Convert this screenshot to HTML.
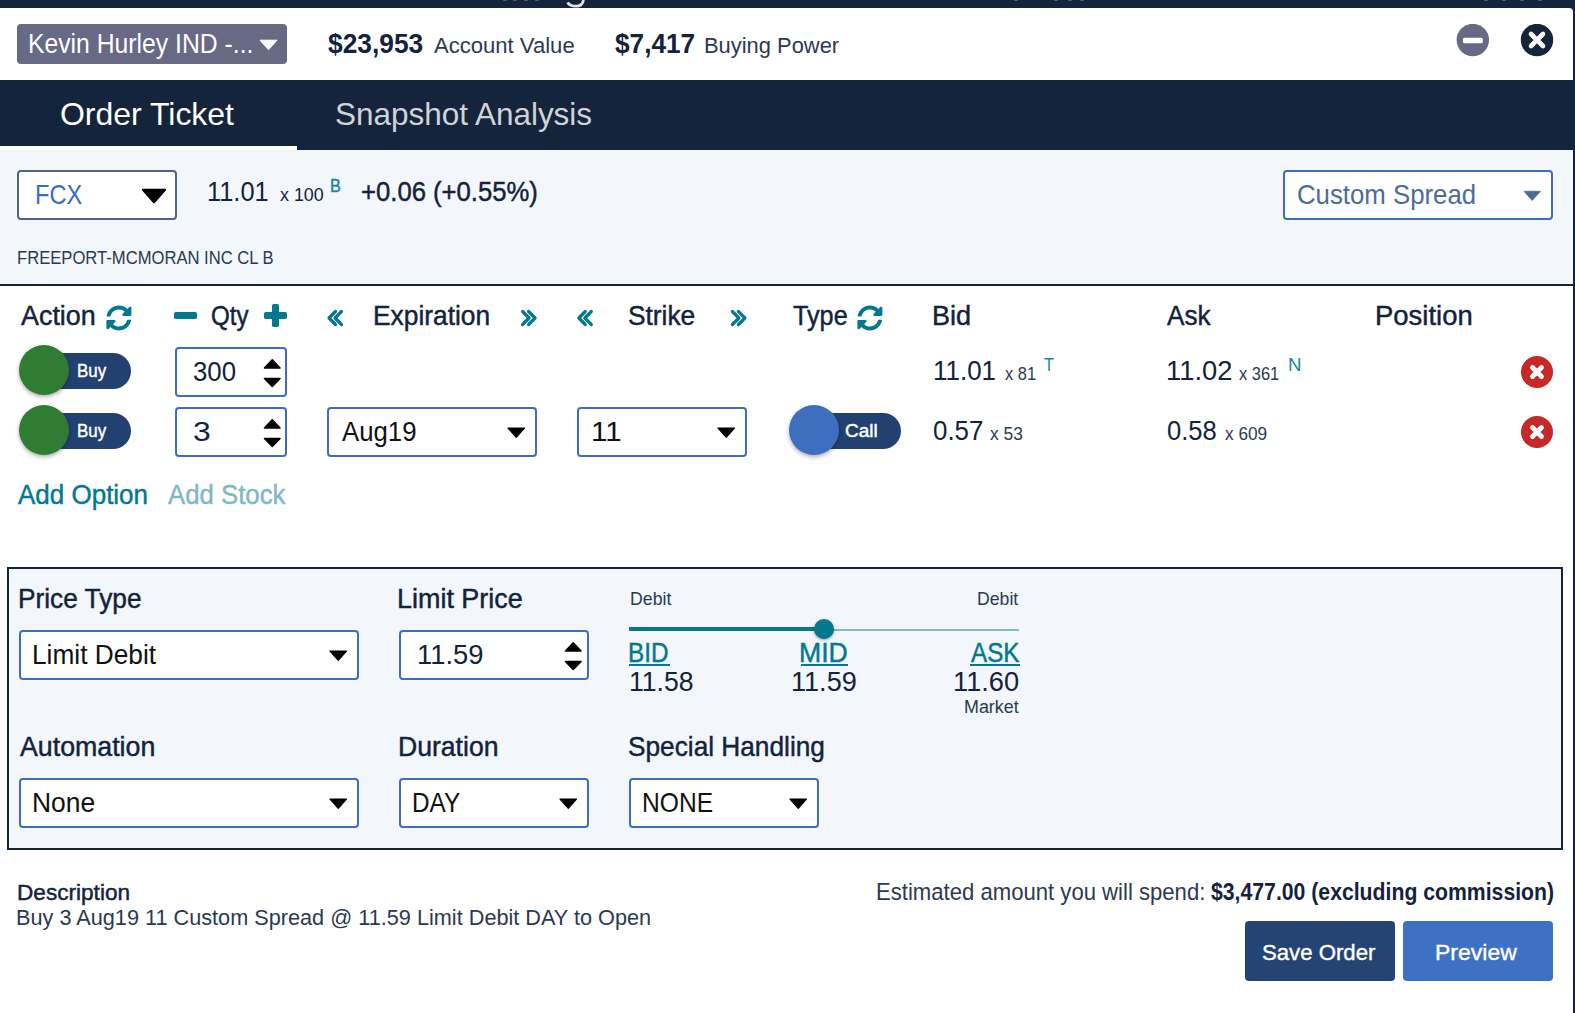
<!DOCTYPE html>
<html><head><meta charset="utf-8"><style>
html,body{margin:0;padding:0;}
body{width:1575px;height:1013px;position:relative;overflow:hidden;background:#13243b;font-family:"Liberation Sans",sans-serif;}
.t{position:absolute;white-space:nowrap;transform-origin:0 0;display:block;}
.a{position:absolute;box-sizing:border-box;}
</style></head><body>
<div class="a" style="left:0;top:8px;width:1573px;height:1005px;background:#fff;border-top-right-radius:4px;"></div>
<svg class="a" style="left:563px;top:0" width="30" height="8"><path d="M4.5 2.5 Q7 6.2 13 6.2 Q19.5 6.2 20.5 0" stroke="#e2e2e6" stroke-width="2.8" fill="none"/></svg>
<div class="a" style="left:503px;top:0;width:4px;height:1.2px;background:#5a6372;border-radius:0 0 2px 2px;"></div>
<div class="a" style="left:513px;top:0;width:4px;height:1.2px;background:#5a6372;border-radius:0 0 2px 2px;"></div>
<div class="a" style="left:524px;top:0;width:4px;height:1.2px;background:#5a6372;border-radius:0 0 2px 2px;"></div>
<div class="a" style="left:535px;top:0;width:4px;height:1.2px;background:#5a6372;border-radius:0 0 2px 2px;"></div>
<div class="a" style="left:1014px;top:0;width:4px;height:1.2px;background:#5a6372;border-radius:0 0 2px 2px;"></div>
<div class="a" style="left:1054px;top:0;width:4px;height:1.2px;background:#5a6372;border-radius:0 0 2px 2px;"></div>
<div class="a" style="left:1068px;top:0;width:4px;height:1.2px;background:#5a6372;border-radius:0 0 2px 2px;"></div>
<div class="a" style="left:1080px;top:0;width:4px;height:1.2px;background:#5a6372;border-radius:0 0 2px 2px;"></div>
<div class="a" style="left:1484px;top:0;width:4px;height:1.2px;background:#5a6372;border-radius:0 0 2px 2px;"></div>
<div class="a" style="left:1502px;top:0;width:4px;height:1.2px;background:#5a6372;border-radius:0 0 2px 2px;"></div>
<div class="a" style="left:1520px;top:0;width:4px;height:1.2px;background:#5a6372;border-radius:0 0 2px 2px;"></div>
<div class="a" style="left:1538px;top:0;width:4px;height:1.2px;background:#5a6372;border-radius:0 0 2px 2px;"></div>
<div class="a" style="left:17px;top:24px;width:270px;height:40px;background:#676985;border-radius:4px;"></div>
<svg class="a" style="left:259px;top:39px" width="20" height="12"><path d="M1 1.2 L18 1.2 L9.5 10.8 Z" fill="#fff" stroke="#fff" stroke-width="1" stroke-linejoin="round"/></svg>
<svg class="a" style="left:1456px;top:24px" width="34" height="34"><circle cx="16.8" cy="16" r="16.2" fill="#676985"/><rect x="7" y="13.8" width="19.8" height="5.5" rx="1.5" fill="#fff"/></svg>
<svg class="a" style="left:1520px;top:24px" width="34" height="34"><circle cx="17" cy="16" r="16.2" fill="#13243b"/><path d="M11 10 L23 22 M23 10 L11 22" stroke="#fff" stroke-width="4.6" stroke-linecap="round"/></svg>
<div class="a" style="left:0;top:80px;width:1573px;height:70px;background:#13243b;"></div>
<div class="a" style="left:0;top:146px;width:297px;height:4px;background:#fff;"></div>
<div class="a" style="left:0;top:150px;width:1573px;height:134px;background:#f3f7fb;"></div>
<div class="a" style="left:0;top:284px;width:1573px;height:2px;background:#13243b;"></div>
<div class="a" style="left:17px;top:170px;width:160px;height:50px;background:#fff;border:2px solid #50657f;border-radius:4px;"></div>
<svg class="a" style="left:141px;top:188px" width="27" height="16"><path d="M2 1.8 L24 1.8 L13 14.2 Z" fill="#000" stroke="#000" stroke-width="2.2" stroke-linejoin="round"/></svg>
<div class="a" style="left:1283px;top:170px;width:270px;height:50px;background:#fff;border:2px solid #3d6dc2;border-radius:4px;"></div>
<svg class="a" style="left:1523px;top:190px" width="19" height="12"><path d="M1 1.3 L17.5 1.3 L9.2 10.5 Z" fill="#4a6d96" stroke="#4a6d96" stroke-width="0.8" stroke-linejoin="round"/></svg>
<svg class="a" style="left:105.80px;top:304.79px" width="25.81" height="26.01" viewBox="0 0 512 512" preserveAspectRatio="none"><path fill="#03788f" d="M370.72 133.28C339.458 104.008 298.888 87.962 255.848 88c-77.458.068-144.328 53.178-162.791 126.85-1.344 5.363-6.122 9.15-11.651 9.15H24.103c-7.498 0-13.194-6.807-11.807-14.176C33.933 94.924 134.813 8 256 8c66.448 0 126.791 26.136 171.315 68.685L463.03 40.97C478.149 25.851 504 36.559 504 57.941V192c0 13.255-10.745 24-24 24H345.941c-21.382 0-32.09-25.851-16.971-40.971l41.75-41.749zM32 296h134.059c21.382 0 32.09 25.851 16.971 40.971l-41.75 41.75c31.262 29.273 71.835 45.319 114.876 45.28 77.418-.07 144.315-53.144 162.787-126.849 1.344-5.363 6.122-9.15 11.651-9.15h57.304c7.498 0 13.194 6.807 11.807 14.176C478.067 417.076 377.187 504 256 504c-66.448 0-126.791-26.136-171.315-68.685L48.97 471.03C33.851 486.149 8 475.441 8 454.059V320c0-13.255 10.745-24 24-24z"/></svg>
<svg class="a" style="left:857.10px;top:304.79px" width="25.81" height="26.01" viewBox="0 0 512 512" preserveAspectRatio="none"><path fill="#03788f" d="M370.72 133.28C339.458 104.008 298.888 87.962 255.848 88c-77.458.068-144.328 53.178-162.791 126.85-1.344 5.363-6.122 9.15-11.651 9.15H24.103c-7.498 0-13.194-6.807-11.807-14.176C33.933 94.924 134.813 8 256 8c66.448 0 126.791 26.136 171.315 68.685L463.03 40.97C478.149 25.851 504 36.559 504 57.941V192c0 13.255-10.745 24-24 24H345.941c-21.382 0-32.09-25.851-16.971-40.971l41.75-41.749zM32 296h134.059c21.382 0 32.09 25.851 16.971 40.971l-41.75 41.75c31.262 29.273 71.835 45.319 114.876 45.28 77.418-.07 144.315-53.144 162.787-126.849 1.344-5.363 6.122-9.15 11.651-9.15h57.304c7.498 0 13.194 6.807 11.807 14.176C478.067 417.076 377.187 504 256 504c-66.448 0-126.791-26.136-171.315-68.685L48.97 471.03C33.851 486.149 8 475.441 8 454.059V320c0-13.255 10.745-24 24-24z"/></svg>
<div class="a" style="left:174.4px;top:312.3px;width:23px;height:7px;background:#03788f;border-radius:1.8px;"></div>
<div class="a" style="left:264.4px;top:312.3px;width:23px;height:7px;background:#03788f;border-radius:1.8px;"></div>
<div class="a" style="left:272.4px;top:304.4px;width:7px;height:23px;background:#03788f;border-radius:1.8px;"></div>
<svg class="a" style="left:0;top:0" width="1" height="1" overflow="visible"><path d="M335.50 311.5 L329.00 318 L335.50 324.5 M341.50 311.5 L335.00 318 L341.50 324.5" stroke="#03788f" stroke-width="3.2" fill="none" stroke-linecap="round" stroke-linejoin="round"/></svg>
<svg class="a" style="left:0;top:0" width="1" height="1" overflow="visible"><path d="M585.30 311.5 L578.80 318 L585.30 324.5 M591.30 311.5 L584.80 318 L591.30 324.5" stroke="#03788f" stroke-width="3.2" fill="none" stroke-linecap="round" stroke-linejoin="round"/></svg>
<svg class="a" style="left:0;top:0" width="1" height="1" overflow="visible"><path d="M522.60 311.5 L529.10 318 L522.60 324.5 M528.60 311.5 L535.10 318 L528.60 324.5" stroke="#03788f" stroke-width="3.2" fill="none" stroke-linecap="round" stroke-linejoin="round"/></svg>
<svg class="a" style="left:0;top:0" width="1" height="1" overflow="visible"><path d="M732.40 311.5 L738.90 318 L732.40 324.5 M738.40 311.5 L744.90 318 L738.40 324.5" stroke="#03788f" stroke-width="3.2" fill="none" stroke-linecap="round" stroke-linejoin="round"/></svg>
<div class="a" style="left:26px;top:353px;width:105px;height:36px;background:#234170;border-radius:18px;"></div>
<div class="a" style="left:19px;top:345px;width:50px;height:50px;background:#2e7d32;border-radius:50%;box-shadow:0 2px 4px rgba(0,0,0,0.32);"></div>
<div class="a" style="left:175px;top:347px;width:112px;height:50px;background:#fff;border:2px solid #3d6dc2;border-radius:4px;"></div>
<svg class="a" style="left:263px;top:357.5px" width="19" height="31"><path d="M9.25 1.8 L17 10 L1.5 10 Z M1.5 20.5 L17 20.5 L9.25 28.5 Z" fill="#000" stroke="#000" stroke-width="1.6" stroke-linejoin="round"/></svg>
<svg class="a" style="left:1520px;top:355px" width="34" height="34"><circle cx="17" cy="17" r="16" fill="#c62828"/><path d="M12.5 12.5 L21.5 21.5 M21.5 12.5 L12.5 21.5" stroke="#fff" stroke-width="4.8" stroke-linecap="round"/></svg>
<div class="a" style="left:26px;top:413px;width:105px;height:36px;background:#234170;border-radius:18px;"></div>
<div class="a" style="left:19px;top:405px;width:50px;height:50px;background:#2e7d32;border-radius:50%;box-shadow:0 2px 4px rgba(0,0,0,0.32);"></div>
<div class="a" style="left:175px;top:407px;width:112px;height:50px;background:#fff;border:2px solid #3d6dc2;border-radius:4px;"></div>
<svg class="a" style="left:263px;top:417.5px" width="19" height="31"><path d="M9.25 1.8 L17 10 L1.5 10 Z M1.5 20.5 L17 20.5 L9.25 28.5 Z" fill="#000" stroke="#000" stroke-width="1.6" stroke-linejoin="round"/></svg>
<div class="a" style="left:327px;top:407px;width:210px;height:50px;background:#fff;border:2px solid #3d6dc2;border-radius:4px;"></div>
<svg class="a" style="left:507px;top:427px" width="19" height="12"><path d="M1 1 L17.5 1 L9.25 10.3 Z" fill="#000" stroke="#000" stroke-width="1.2" stroke-linejoin="round"/></svg>
<div class="a" style="left:577px;top:407px;width:170px;height:50px;background:#fff;border:2px solid #3d6dc2;border-radius:4px;"></div>
<svg class="a" style="left:717px;top:427px" width="19" height="12"><path d="M1 1 L17.5 1 L9.25 10.3 Z" fill="#000" stroke="#000" stroke-width="1.2" stroke-linejoin="round"/></svg>
<div class="a" style="left:796px;top:413px;width:105px;height:36px;background:#234170;border-radius:18px;"></div>
<div class="a" style="left:789px;top:405px;width:50px;height:50px;background:#3d6fc0;border-radius:50%;box-shadow:0 2px 4px rgba(0,0,0,0.32);"></div>
<svg class="a" style="left:1520px;top:415px" width="34" height="34"><circle cx="17" cy="17" r="16" fill="#c62828"/><path d="M12.5 12.5 L21.5 21.5 M21.5 12.5 L12.5 21.5" stroke="#fff" stroke-width="4.8" stroke-linecap="round"/></svg>
<div class="a" style="left:7px;top:567px;width:1556px;height:283px;background:#f3f7fb;border:2px solid #13243b;"></div>
<div class="a" style="left:19px;top:630px;width:340px;height:50px;background:#fff;border:2px solid #3d6dc2;border-radius:4px;"></div>
<svg class="a" style="left:329px;top:650px" width="19" height="12"><path d="M1 1 L17.5 1 L9.25 10.3 Z" fill="#000" stroke="#000" stroke-width="1.2" stroke-linejoin="round"/></svg>
<div class="a" style="left:399px;top:630px;width:190px;height:50px;background:#fff;border:2px solid #3d6dc2;border-radius:4px;"></div>
<svg class="a" style="left:564px;top:641px" width="19" height="31"><path d="M9.25 1.8 L17 10 L1.5 10 Z M1.5 20.5 L17 20.5 L9.25 28.5 Z" fill="#000" stroke="#000" stroke-width="1.6" stroke-linejoin="round"/></svg>
<div class="a" style="left:629px;top:628.7px;width:390px;height:2.3px;background:#80bcc6;"></div>
<div class="a" style="left:629px;top:626.6px;width:195px;height:4.7px;background:#03788f;"></div>
<div class="a" style="left:814px;top:619px;width:20px;height:20px;background:#03788f;border-radius:50%;box-shadow:0 1px 3px rgba(0,0,0,0.4);"></div>
<div class="a" style="left:629px;top:664.2px;width:41px;height:2px;background:#03788f;"></div>
<div class="a" style="left:800.5px;top:664.2px;width:47px;height:2px;background:#03788f;"></div>
<div class="a" style="left:969.5px;top:664.2px;width:50px;height:2px;background:#03788f;"></div>
<div class="a" style="left:19px;top:778px;width:340px;height:50px;background:#fff;border:2px solid #3d6dc2;border-radius:4px;"></div>
<svg class="a" style="left:329px;top:798px" width="19" height="12"><path d="M1 1 L17.5 1 L9.25 10.3 Z" fill="#000" stroke="#000" stroke-width="1.2" stroke-linejoin="round"/></svg>
<div class="a" style="left:399px;top:778px;width:190px;height:50px;background:#fff;border:2px solid #3d6dc2;border-radius:4px;"></div>
<svg class="a" style="left:559px;top:798px" width="19" height="12"><path d="M1 1 L17.5 1 L9.25 10.3 Z" fill="#000" stroke="#000" stroke-width="1.2" stroke-linejoin="round"/></svg>
<div class="a" style="left:629px;top:778px;width:190px;height:50px;background:#fff;border:2px solid #3d6dc2;border-radius:4px;"></div>
<svg class="a" style="left:789px;top:798px" width="19" height="12"><path d="M1 1 L17.5 1 L9.25 10.3 Z" fill="#000" stroke="#000" stroke-width="1.2" stroke-linejoin="round"/></svg>
<div class="a" style="left:1245px;top:921px;width:150px;height:60px;background:#244475;border-radius:4px;"></div>
<div class="a" style="left:1403px;top:921px;width:150px;height:60px;background:#3c71c3;border-radius:4px;"></div>
<span class="t" style="left:28.17px;top:31px;font-size:27.00px;line-height:27.00px;font-weight:400;color:#ffffff;transform:scaleX(0.9161);">Kevin Hurley IND -...</span>
<span class="t" style="left:328.00px;top:30px;font-size:27.25px;line-height:27.25px;font-weight:700;color:#13233b;transform:scaleX(0.9661);">$23,953</span>
<span class="t" style="left:434.10px;top:35px;font-size:22.00px;line-height:22.00px;font-weight:400;color:#2b3a50;transform:scaleX(1.0029);">Account Value</span>
<span class="t" style="left:615.00px;top:30px;font-size:27.25px;line-height:27.25px;font-weight:700;color:#13233b;transform:scaleX(0.9612);">$7,417</span>
<span class="t" style="left:704.00px;top:35px;font-size:22.00px;line-height:22.00px;font-weight:400;color:#2b3a50;transform:scaleX(0.9955);">Buying Power</span>
<span class="t" style="left:60.29px;top:99px;font-size:31.50px;line-height:31.50px;font-weight:400;color:#ffffff;transform:scaleX(1.0143);">Order Ticket</span>
<span class="t" style="left:334.99px;top:99px;font-size:31.50px;line-height:31.50px;font-weight:400;color:#d2d3d8;transform:scaleX(0.9986);">Snapshot Analysis</span>
<span class="t" style="left:34.98px;top:181px;font-size:27.50px;line-height:27.50px;font-weight:400;color:#3a6cc0;transform:scaleX(0.8603);">FCX</span>
<span class="t" style="left:206.86px;top:178px;font-size:27.50px;line-height:27.50px;font-weight:400;color:#13233b;transform:scaleX(0.9232);">11.01</span>
<span class="t" style="left:280.10px;top:186px;font-size:18.75px;line-height:18.75px;font-weight:400;color:#13233b;transform:scaleX(0.9529);">x 100</span>
<span class="t" style="left:329.54px;top:177px;font-size:18.75px;line-height:18.75px;font-weight:400;color:#16879a;transform:scaleX(0.8660);-webkit-text-stroke:0.45px #16879a;">B</span>
<span class="t" style="left:361.17px;top:178px;font-size:27.50px;line-height:27.50px;font-weight:400;color:#13233b;transform:scaleX(0.9332);-webkit-text-stroke:0.45px #13233b;">+0.06 (+0.55%)</span>
<span class="t" style="left:1297.06px;top:181px;font-size:27.50px;line-height:27.50px;font-weight:400;color:#4a6d96;transform:scaleX(0.9371);">Custom Spread</span>
<span class="t" style="left:16.63px;top:248px;font-size:19.25px;line-height:19.25px;font-weight:400;color:#2b3a50;transform:scaleX(0.8633);">FREEPORT-MCMORAN INC CL B</span>
<span class="t" style="left:21.40px;top:302px;font-size:27.50px;line-height:27.50px;font-weight:400;color:#13233b;transform:scaleX(0.9783);-webkit-text-stroke:0.45px #13233b;">Action</span>
<span class="t" style="left:211.03px;top:302px;font-size:27.50px;line-height:27.50px;font-weight:400;color:#13233b;transform:scaleX(0.8782);-webkit-text-stroke:0.45px #13233b;">Qty</span>
<span class="t" style="left:373.08px;top:302px;font-size:27.50px;line-height:27.50px;font-weight:400;color:#13233b;transform:scaleX(0.9580);-webkit-text-stroke:0.45px #13233b;">Expiration</span>
<span class="t" style="left:628.04px;top:302px;font-size:27.50px;line-height:27.50px;font-weight:400;color:#13233b;transform:scaleX(0.9567);-webkit-text-stroke:0.45px #13233b;">Strike</span>
<span class="t" style="left:793.00px;top:302px;font-size:27.50px;line-height:27.50px;font-weight:400;color:#13233b;transform:scaleX(0.9171);-webkit-text-stroke:0.45px #13233b;">Type</span>
<span class="t" style="left:932.12px;top:302px;font-size:27.50px;line-height:27.50px;font-weight:400;color:#13233b;transform:scaleX(0.9851);-webkit-text-stroke:0.45px #13233b;">Bid</span>
<span class="t" style="left:1167.19px;top:302px;font-size:27.50px;line-height:27.50px;font-weight:400;color:#13233b;transform:scaleX(0.9504);-webkit-text-stroke:0.45px #13233b;">Ask</span>
<span class="t" style="left:1375.20px;top:302px;font-size:27.50px;line-height:27.50px;font-weight:400;color:#13233b;transform:scaleX(0.9985);-webkit-text-stroke:0.45px #13233b;">Position</span>
<span class="t" style="left:77.11px;top:361px;font-size:19.00px;line-height:19.00px;font-weight:400;color:#ffffff;transform:scaleX(0.8902);-webkit-text-stroke:0.45px #ffffff;">Buy</span>
<span class="t" style="left:193.36px;top:358px;font-size:27.50px;line-height:27.50px;font-weight:400;color:#13233b;transform:scaleX(0.9376);">300</span>
<span class="t" style="left:932.61px;top:357px;font-size:27.50px;line-height:27.50px;font-weight:400;color:#13233b;transform:scaleX(0.9437);">11.01</span>
<span class="t" style="left:1005.00px;top:364px;font-size:19.00px;line-height:19.00px;font-weight:400;color:#2b3a50;transform:scaleX(0.8631);">x 81</span>
<span class="t" style="left:1044.20px;top:355px;font-size:19.00px;line-height:19.00px;font-weight:400;color:#16879a;transform:scaleX(0.8586);">T</span>
<span class="t" style="left:1165.91px;top:357px;font-size:27.50px;line-height:27.50px;font-weight:400;color:#13233b;transform:scaleX(0.9941);">11.02</span>
<span class="t" style="left:1239.20px;top:364px;font-size:19.00px;line-height:19.00px;font-weight:400;color:#2b3a50;transform:scaleX(0.8647);">x 361</span>
<span class="t" style="left:1288.09px;top:355px;font-size:19.00px;line-height:19.00px;font-weight:400;color:#16879a;transform:scaleX(0.9811);">N</span>
<span class="t" style="left:77.11px;top:421px;font-size:19.00px;line-height:19.00px;font-weight:400;color:#ffffff;transform:scaleX(0.8902);-webkit-text-stroke:0.45px #ffffff;">Buy</span>
<span class="t" style="left:193.15px;top:418px;font-size:27.50px;line-height:27.50px;font-weight:400;color:#13233b;transform:scaleX(1.1594);">3</span>
<span class="t" style="left:341.50px;top:418px;font-size:27.50px;line-height:27.50px;font-weight:400;color:#111111;transform:scaleX(0.9370);">Aug19</span>
<span class="t" style="left:590.74px;top:418px;font-size:27.50px;line-height:27.50px;font-weight:400;color:#111111;transform:scaleX(1.0735);">11</span>
<span class="t" style="left:845.17px;top:421px;font-size:19.00px;line-height:19.00px;font-weight:400;color:#ffffff;transform:scaleX(1.0005);-webkit-text-stroke:0.45px #ffffff;">Call</span>
<span class="t" style="left:932.96px;top:417px;font-size:27.50px;line-height:27.50px;font-weight:400;color:#13233b;transform:scaleX(0.9428);">0.57</span>
<span class="t" style="left:989.90px;top:424px;font-size:19.00px;line-height:19.00px;font-weight:400;color:#2b3a50;transform:scaleX(0.9139);">x 53</span>
<span class="t" style="left:1166.97px;top:417px;font-size:27.50px;line-height:27.50px;font-weight:400;color:#13233b;transform:scaleX(0.9289);">0.58</span>
<span class="t" style="left:1225.10px;top:424px;font-size:19.00px;line-height:19.00px;font-weight:400;color:#2b3a50;transform:scaleX(0.9083);">x 609</span>
<span class="t" style="left:18.10px;top:481px;font-size:27.50px;line-height:27.50px;font-weight:400;color:#03788f;transform:scaleX(0.9450);-webkit-text-stroke:0.45px #03788f;">Add Option</span>
<span class="t" style="left:167.90px;top:481px;font-size:27.50px;line-height:27.50px;font-weight:400;color:#7fb9c4;transform:scaleX(0.9371);-webkit-text-stroke:0.45px #7fb9c4;">Add Stock</span>
<span class="t" style="left:18.29px;top:585px;font-size:27.50px;line-height:27.50px;font-weight:400;color:#13233b;transform:scaleX(0.9545);-webkit-text-stroke:0.45px #13233b;">Price Type</span>
<span class="t" style="left:31.99px;top:641px;font-size:27.50px;line-height:27.50px;font-weight:400;color:#111111;transform:scaleX(0.9551);">Limit Debit</span>
<span class="t" style="left:397.44px;top:585px;font-size:27.50px;line-height:27.50px;font-weight:400;color:#13233b;transform:scaleX(0.9797);-webkit-text-stroke:0.45px #13233b;">Limit Price</span>
<span class="t" style="left:416.82px;top:641px;font-size:27.50px;line-height:27.50px;font-weight:400;color:#13233b;transform:scaleX(0.9941);">11.59</span>
<span class="t" style="left:629.69px;top:589px;font-size:19.25px;line-height:19.25px;font-weight:400;color:#2b3a50;transform:scaleX(0.9201);">Debit</span>
<span class="t" style="left:977.08px;top:589px;font-size:19.25px;line-height:19.25px;font-weight:400;color:#2b3a50;transform:scaleX(0.9174);">Debit</span>
<span class="t" style="left:628.33px;top:639px;font-size:27.50px;line-height:27.50px;font-weight:400;color:#03788f;transform:scaleX(0.8841);-webkit-text-stroke:0.45px #03788f;">BID</span>
<span class="t" style="left:799.07px;top:639px;font-size:27.50px;line-height:27.50px;font-weight:400;color:#03788f;transform:scaleX(0.9674);-webkit-text-stroke:0.45px #03788f;">MID</span>
<span class="t" style="left:970.60px;top:639px;font-size:27.50px;line-height:27.50px;font-weight:400;color:#03788f;transform:scaleX(0.8819);-webkit-text-stroke:0.45px #03788f;">ASK</span>
<span class="t" style="left:629.07px;top:668px;font-size:27.50px;line-height:27.50px;font-weight:400;color:#13233b;transform:scaleX(0.9664);">11.58</span>
<span class="t" style="left:791.33px;top:668px;font-size:27.50px;line-height:27.50px;font-weight:400;color:#13233b;transform:scaleX(0.9846);">11.59</span>
<span class="t" style="left:953.02px;top:668px;font-size:27.50px;line-height:27.50px;font-weight:400;color:#13233b;transform:scaleX(0.9910);">11.60</span>
<span class="t" style="left:963.67px;top:697px;font-size:19.25px;line-height:19.25px;font-weight:400;color:#2b3a50;transform:scaleX(0.9288);">Market</span>
<span class="t" style="left:20.00px;top:733px;font-size:27.50px;line-height:27.50px;font-weight:400;color:#13233b;transform:scaleX(0.9723);-webkit-text-stroke:0.45px #13233b;">Automation</span>
<span class="t" style="left:32.38px;top:789px;font-size:27.50px;line-height:27.50px;font-weight:400;color:#111111;transform:scaleX(0.9617);">None</span>
<span class="t" style="left:398.07px;top:733px;font-size:27.50px;line-height:27.50px;font-weight:400;color:#13233b;transform:scaleX(0.9667);-webkit-text-stroke:0.45px #13233b;">Duration</span>
<span class="t" style="left:412.12px;top:789px;font-size:27.50px;line-height:27.50px;font-weight:400;color:#111111;transform:scaleX(0.8840);">DAY</span>
<span class="t" style="left:628.25px;top:733px;font-size:27.50px;line-height:27.50px;font-weight:400;color:#13233b;transform:scaleX(0.9540);-webkit-text-stroke:0.45px #13233b;">Special Handling</span>
<span class="t" style="left:642.10px;top:789px;font-size:27.50px;line-height:27.50px;font-weight:400;color:#111111;transform:scaleX(0.8950);">NONE</span>
<span class="t" style="left:16.90px;top:881px;font-size:22.75px;line-height:22.75px;font-weight:400;color:#13233b;transform:scaleX(0.9934);-webkit-text-stroke:0.45px #13233b;">Description</span>
<span class="t" style="left:15.94px;top:906px;font-size:22.75px;line-height:22.75px;font-weight:400;color:#2b3a50;transform:scaleX(0.9531);">Buy 3 Aug19 11 Custom Spread @ 11.59 Limit Debit DAY to Open</span>
<span class="t" style="left:876.15px;top:881px;font-size:23.25px;line-height:23.25px;font-weight:400;color:#2b3a50;transform:scaleX(0.9509);">Estimated amount you will spend:</span>
<span class="t" style="left:1210.50px;top:881px;font-size:23.25px;line-height:23.25px;font-weight:700;color:#13233b;transform:scaleX(0.9124);">$3,477.00 (excluding commission)</span>
<span class="t" style="left:1262.23px;top:941px;font-size:22.75px;line-height:22.75px;font-weight:400;color:#ffffff;transform:scaleX(0.9745);-webkit-text-stroke:0.40px #ffffff;">Save Order</span>
<span class="t" style="left:1435.19px;top:941px;font-size:22.75px;line-height:22.75px;font-weight:400;color:#ffffff;transform:scaleX(1.0115);-webkit-text-stroke:0.40px #ffffff;">Preview</span>
</body></html>
